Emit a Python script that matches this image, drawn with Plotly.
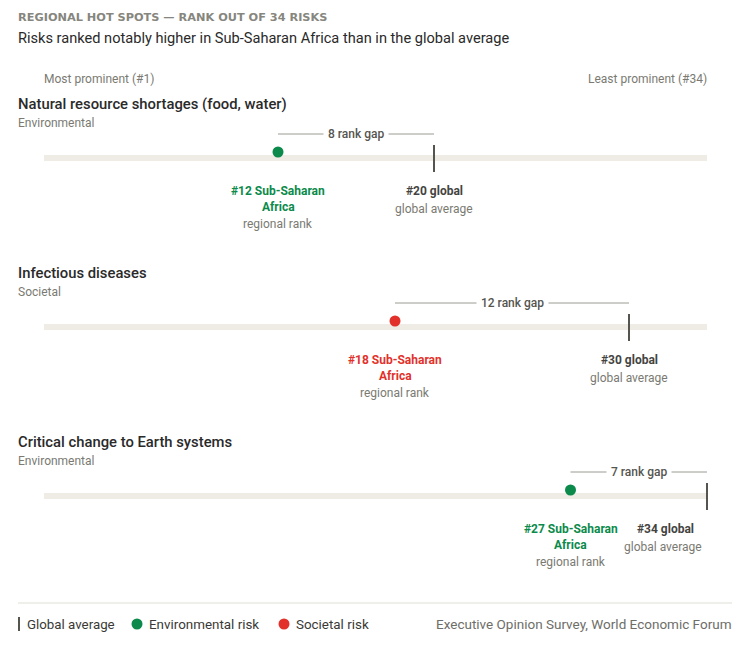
import plotly.graph_objects as go

# ---- data ----
risks = ["Natural resource shortages (food, water)", "Infectious diseases", "Critical change to Earth systems"]
categories = ["Environmental", "Societal", "Environmental"]
regional_rank = [12, 18, 27]
global_rank = [20, 30, 34]
region = "Sub-Saharan Africa"
total_risks = 34

cat_colors = {"Environmental": "#0B8A4B", "Societal": "#E2312B"}

W, H = 752, 645
L_PX, R_PX = 44, 707
FONT = "Roboto"
DARK = "#2A2A2A"
GRAY = "#7A7A72"
MID = "#555550"

scale = (R_PX - L_PX) / total_risks
x_min = -L_PX / scale
x_max = total_risks + (W - R_PX) / scale

def px(xp):
    return xp / W

fig = go.Figure()
shapes = []
ann = []

def text(x, y, s, size, color, xanchor="left", xref="paper", bold=False, bg=None,
         family=FONT, weight=None, xshift=None):
    f = dict(family=family, size=size, color=color)
    if weight:
        f["weight"] = weight
    if xshift is None:
        xshift = -2 if xanchor == "left" else (2 if xanchor == "right" else 0)
    d = dict(x=x, y=y, xref=xref, yref="y", text=(f"<b>{s}</b>" if bold else s),
             showarrow=False, xanchor=xanchor, yanchor="middle", xshift=xshift, font=f)
    if bg:
        d.update(bgcolor=bg, borderpad=4)
    ann.append(d)

# header
text(px(18), 17, "REGIONAL HOT SPOTS — RANK OUT OF 34 RISKS", 11.3, "#86867E", family="DejaVu Sans", bold=True)
text(px(18), 38, "Risks ranked notably higher in Sub-Saharan Africa than in the global average", 14.6, DARK)
text(0, 79, "Most prominent (#1)", 12, GRAY, xref="x")
text(total_risks, 79, f"Least prominent (#{total_risks})", 12, GRAY, xanchor="right", xref="x")

row0 = 158
row_gap = 169
for i, (name, cat, rr, gr) in enumerate(zip(risks, categories, regional_rank, global_rank)):
    yt = row0 + i * row_gap
    col = cat_colors[cat]
    text(px(18), yt - 54, name, 14.8, DARK, weight=500)
    text(px(18), yt - 35, cat, 12, GRAY)
    # track
    shapes.append(dict(type="line", xref="x", yref="y", x0=0, x1=total_risks, y0=yt, y1=yt,
                       line=dict(color="#EEECE5", width=6), layer="below"))
    # global marker
    shapes.append(dict(type="line", xref="x", yref="y", x0=gr, x1=gr, y0=yt - 13, y1=yt + 14,
                       line=dict(color=MID, width=2)))
    # gap line
    shapes.append(dict(type="line", xref="x", yref="y", x0=rr, x1=gr, y0=yt - 24, y1=yt - 24,
                       line=dict(color="#9A9A94", width=1)))
    text((rr + gr) / 2, yt - 24, f"{gr - rr} rank gap", 12, "#55554F", xanchor="center", xref="x",
         bg="white", weight=500)
    # labels regional
    text(rr, yt + 33, f"#{rr} Sub-Saharan", 12, col, xanchor="center", xref="x", bold=True)
    text(rr, yt + 49, "Africa", 12, col, xanchor="center", xref="x", bold=True)
    text(rr, yt + 66, "regional rank", 12, GRAY, xanchor="center", xref="x")
    # labels global (kept inside the track end)
    g_anchor, g_shift = ("right", -3) if gr == total_risks else ("center", 0)
    text(gr, yt + 33, f"#{gr} global", 12, "#44443F", xanchor=g_anchor, xref="x", bold=True,
         xshift=g_shift - (8 if g_anchor == "right" else 0))
    text(gr, yt + 51, "global average", 12, GRAY, xanchor=g_anchor, xref="x", xshift=g_shift)
    # dot
    fig.add_trace(go.Scatter(x=[rr], y=[yt - 6], mode="markers",
                             marker=dict(size=11, color=col), hoverinfo="skip", showlegend=False))

# footer
shapes.append(dict(type="line", xref="paper", yref="y", x0=px(18), x1=px(732), y0=603, y1=603,
                   line=dict(color="#DDDDD6", width=1)))
shapes.append(dict(type="line", xref="paper", yref="y", x0=px(19), x1=px(19), y0=617, y1=631,
                   line=dict(color=MID, width=2)))
text(px(27), 624, "Global average", 13.3, "#3A3A36")
for cx, c, lab in [(137, cat_colors["Environmental"], "Environmental risk"), (284, cat_colors["Societal"], "Societal risk")]:
    shapes.append(dict(type="circle", xref="paper", yref="y", x0=px(cx - 5.5), x1=px(cx + 5.5), y0=618.5, y1=629.5,
                       fillcolor=c, line=dict(width=0)))
    text(px(cx + 12), 624, lab, 13.4, "#3A3A36")
text(px(732), 624, "Executive Opinion Survey, World Economic Forum", 13.5, "#6E6E68", xanchor="right")

fig.update_layout(
    width=W, height=H, margin=dict(l=0, r=0, t=0, b=0),
    paper_bgcolor="white", plot_bgcolor="white",
    xaxis=dict(range=[x_min, x_max], visible=False, fixedrange=True),
    yaxis=dict(range=[H, 0], visible=False, fixedrange=True),
    shapes=shapes, annotations=ann, showlegend=False,
)
fig.write_html("out.html")
